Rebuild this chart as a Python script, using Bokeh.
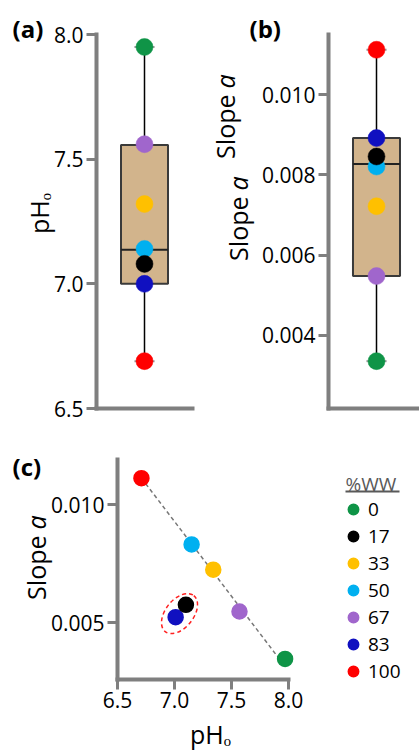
import math
from bokeh.plotting import figure
from bokeh.models import (Range1d, FixedTicker, PrintfTickFormatter, Label, BoxAnnotation,
                          Legend, LegendItem, ColumnDataSource)
from bokeh.layouts import row, column
from bokeh.embed import file_html
from bokeh.resources import INLINE

# ---------------- data ----------------
ww_levels = ["0", "17", "33", "50", "67", "83", "100"]
ww_colors = ["#0f9447", "#000000", "#ffc000", "#00b0f0", "#a066cc", "#1010c0", "#ff0000"]

# (a) pHo per %WW
pho_a = [7.95, 7.08, 7.32, 7.14, 7.56, 7.00, 6.69]
# box stats (a): min, q1, median, q3, max
box_a = [6.69, 7.00, 7.137, 7.557, 7.95]
ticks_a = [6.5, 7.0, 7.5, 8.0]

# (b) slope a per %WW
slope_b = [0.00336, 0.00846, 0.00722, 0.00821, 0.00548, 0.00892, 0.01112]
box_b = [0.00336, 0.00548, 0.00827, 0.00892, 0.01112]
ticks_b = [0.004, 0.006, 0.008, 0.010]

# (c) slope a vs pHo
pho_c = [7.97, 7.10, 7.34, 7.15, 7.57, 7.01, 6.71]
slope_c = [0.00347, 0.00576, 0.00725, 0.00832, 0.00548, 0.00524, 0.01113]
fit_x = [6.71, 7.91]
fit_y = [0.01113, 0.00353]
cluster_x = [7.044]
cluster_y = [0.00539]
ticks_cx = [6.5, 7.0, 7.5, 8.0]
ticks_cy = [0.005, 0.010]

FONT = "Open Sans"
AX = "#7f7f7f"
TOP_H = 424


def lin_range(p0, v0, p1, v1, c0, c1):
    """range for canvas pixels c0..c1 given pixel p0->v0, p1->v1"""
    k = (v1 - v0) / (p1 - p0)
    return Range1d(v0 + (c0 - p0) * k, v0 + (c1 - p0) * k)


class Panel:
    def __init__(self, left, top, width, height, xr, yr):
        self.left, self.top, self.w, self.h = left, top, width, height
        p = figure(width=width, height=height, min_border=0, x_range=xr, y_range=yr,
                   output_backend="svg", toolbar_location=None)
        p.grid.visible = False
        p.outline_line_color = None
        p.background_fill_color = "white"
        p.border_fill_color = "white"
        for ax in p.axis:
            ax.axis_line_color = AX
            ax.axis_line_width = 4
            ax.axis_line_cap = "square"
            ax.major_tick_line_color = AX
            ax.major_tick_line_width = 3
            ax.major_tick_out = 10
            ax.major_tick_in = 0
            ax.minor_tick_line_color = None
            ax.major_label_text_font = FONT
            ax.major_label_text_font_size = "21px"
            ax.major_label_text_color = "black"
            ax.major_label_standoff = 3
        self.p = p

    def lab(self, px, py, text, size, angle=0.0, align="left", baseline="middle",
            style="normal", color="black"):
        self.p.add_layout(Label(x=px - self.left, y=self.top + self.h - py,
                                x_units="screen", y_units="screen", text=text,
                                angle=angle, text_align=align, text_baseline=baseline,
                                text_font=FONT, text_font_size=size,
                                text_font_style=style, text_color=color))


def boxpanel(p, vals, stats):
    lo, q1, med, q3, hi = stats
    p.segment(x0=[1], y0=[lo], x1=[1], y1=[hi], line_color="black", line_width=1.5)
    p.segment(x0=[0.79, 0.79], y0=[lo, hi], x1=[1.21, 1.21], y1=[lo, hi],
              line_color="#9a9a9a", line_width=2)
    p.quad(left=[0.51], right=[1.49], bottom=[q1], top=[q3], fill_color="#d2b48c",
           line_color="#3a3a3a", line_width=2)
    p.segment(x0=[0.51], y0=[med], x1=[1.49], y1=[med], line_color="#222222", line_width=2)
    src = ColumnDataSource(dict(x=[1] * len(vals), y=vals[::-1], c=ww_colors[::-1]))
    p.scatter("x", "y", source=src, size=17, fill_color="c", line_color="c", line_width=0.5)


V = math.pi / 2

# ---------------- panel (a) ----------------  canvas x 0..208, y 0..TOP_H
A = Panel(0, 0, 208, TOP_H,
          lin_range(96, 0, 144, 1, 0, 208),
          lin_range(408, 6.5, 34, 8.0, TOP_H, 0))
pa = A.p
boxpanel(pa, pho_a, box_a)
pa.yaxis.fixed_location = 0
pa.yaxis.bounds = (6.5, 8.0)
pa.yaxis.ticker = FixedTicker(ticks=ticks_a)
pa.yaxis.formatter = PrintfTickFormatter(format="%.1f")
pa.xaxis.fixed_location = 6.5
pa.xaxis.bounds = (0, 2)
pa.xaxis.ticker = FixedTicker(ticks=[])
A.lab(12, 28, "(a)", "24px", style="bold")
A.lab(38, 213, "pHₒ", "25px", angle=V, align="center")

# ---------------- panel (b) ----------------  canvas x 208..419, y 0..TOP_H
B = Panel(208, 0, 211, TOP_H,
          lin_range(328, 0, 376, 1, 208, 419),
          lin_range(408, 0.00218, 34, 0.0115, TOP_H, 0))
pb = B.p
boxpanel(pb, slope_b, box_b)
pb.yaxis.fixed_location = 0
pb.yaxis.bounds = (0.00218, 0.0115)
pb.yaxis.ticker = FixedTicker(ticks=ticks_b)
pb.yaxis.formatter = PrintfTickFormatter(format="%.3f")
pb.xaxis.fixed_location = 0.00218
pb.xaxis.bounds = (0, 3)
pb.xaxis.ticker = FixedTicker(ticks=[])
B.lab(249, 28, "(b)", "24px", style="bold")
B.lab(224, 94, "Slope", "25px", angle=V, align="right")
B.lab(224, 88, "a", "25px", angle=V, align="left", style="italic")
B.lab(237, 196, "Slope", "25px", angle=V, align="right")
B.lab(237, 190, "a", "25px", angle=V, align="left", style="italic")

# ---------------- panel (c) ----------------  canvas x 0..419, y TOP_H..752
C = Panel(0, TOP_H, 419, 752 - TOP_H,
          lin_range(117, 6.5, 288, 8.0, 0, 419),
          lin_range(622.3, 0.005, 504.3, 0.010, 752, TOP_H))
pc = C.p
pc.xaxis.fixed_location = 0.0026
pc.xaxis.bounds = (6.5, 8.0)
pc.xaxis.ticker = FixedTicker(ticks=ticks_cx)
pc.xaxis.formatter = PrintfTickFormatter(format="%.1f")
pc.yaxis.fixed_location = 6.5
pc.yaxis.bounds = (0.0026, 0.01192)
pc.yaxis.ticker = FixedTicker(ticks=ticks_cy)
pc.yaxis.formatter = PrintfTickFormatter(format="%.3f")
pc.line(fit_x, fit_y, line_color="#777777", line_width=1.5, line_dash="4 3")
pc.ellipse(x=cluster_x, y=cluster_y, width=46, height=28, angle=0.9,
           width_units="screen", height_units="screen", fill_color=None,
           line_color="#ff2020", line_width=1.5, line_dash="4 3")
order = list(range(len(ww_levels)))[::-1]
srcc = ColumnDataSource(dict(x=[pho_c[i] for i in order], y=[slope_c[i] for i in order],
                             c=[ww_colors[i] for i in order]))
rc = pc.scatter("x", "y", source=srcc, size=15, fill_color="c", line_color="c", line_width=1.5)
items = [LegendItem(label=ww_levels[i], renderers=[rc], index=order.index(i))
         for i in range(len(ww_levels))]
leg = Legend(items=items, location=(338, 68), padding=0, margin=0, spacing=1,
             glyph_width=30, glyph_height=26, label_height=26, label_standoff=0,
             label_text_font=FONT, label_text_font_size="19px", label_text_color="black",
             border_line_color=None, background_fill_alpha=0)
pc.add_layout(leg)
C.lab(12, 466, "(c)", "24px", style="bold")
C.lab(35.5, 535, "Slope", "25px", angle=V, align="right")
C.lab(35.5, 529, "a", "25px", angle=V, align="left", style="italic")
C.lab(210, 733, "pHₒ", "25px", align="center", baseline="middle")
C.lab(345, 483, "%WW", "19px", color="#595959")
pc.add_layout(BoxAnnotation(left=345, right=399, bottom=752 - 492, top=752 - 490,
                            left_units="screen", right_units="screen",
                            bottom_units="screen", top_units="screen",
                            fill_color="#595959", fill_alpha=1, line_color=None))

layout = column(row(pa, pb), pc)
open("out.html", "w").write(file_html(layout, INLINE))
